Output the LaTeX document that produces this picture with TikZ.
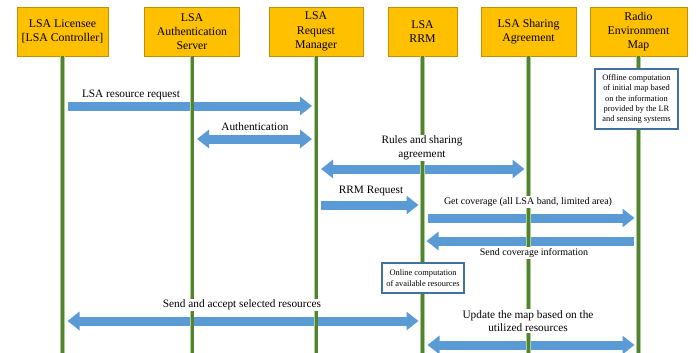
\documentclass[tikz,border=0pt]{standalone}
\usepackage{fontspec}
\setmainfont{Liberation Serif}
\usetikzlibrary{arrows.meta}
\definecolor{hdrfill}{HTML}{FFC000}
\definecolor{hdrline}{HTML}{BF9000}
\definecolor{lifegreen}{HTML}{548235}
\definecolor{lifelight}{HTML}{A9D18E}
\definecolor{msgblue}{HTML}{5B9BD5}
\definecolor{boxblue}{HTML}{41719C}

\begin{document}
\begin{tikzpicture}[x=1pt, y=-1pt,
  hdr/.style={draw=hdrline, fill=hdrfill, minimum height=49pt, align=center, inner sep=1pt, font=\fontsize{11.8}{14.3}\selectfont},
  life/.style={draw=lifegreen, line width=3pt, preaction={draw=lifelight, line width=4.6pt}},
  msg/.style={draw=msgblue, line width=9pt, -{Triangle[length=12pt,width=18pt]}, shorten <=5pt, shorten >=4pt},
  both/.style={msg, {Triangle[length=12pt,width=18pt]}-{Triangle[length=12pt,width=18pt]}},
  lbl/.style={fill=white, inner sep=1pt, align=center, font=\fontsize{11.3}{13.5}\selectfont},
  note/.style={draw=boxblue, line width=1.8pt, fill=white, align=center, inner sep=2pt, font=\fontsize{8.4}{10.3}\selectfont}]

\useasboundingbox (0,0) rectangle (696,353);

% headers
\node [hdr, minimum width=91pt] (lic) at (62.5,31.5) {LSA Licensee\\{[LSA Controller]}};
\node [hdr, minimum width=95pt] (auth) at (192,31.5) {LSA\\Authentication\\Server};
\node [hdr, minimum width=94pt] (req) at (316,31.5) {LSA\\Request\\Manager};
\node [hdr, minimum width=69pt] (rrm) at (422.5,31.5) {LSA\\RRM};
\node [hdr, minimum width=95pt] (agr) at (528.5,31.5) {LSA Sharing\\Agreement};
\node [hdr, minimum width=97pt] (rem) at (638.5,31.5) {Radio\\Environment\\Map};

% messages
\draw [msg] (lic |- 0,106) -- (req |- 0,106);
\draw [both] (auth |- 0,139) -- (req |- 0,139);
\draw [both] (req |- 0,169) -- (agr |- 0,169);
\draw [msg] (req |- 0,205) -- (rrm |- 0,205);
\draw [msg] (rrm |- 0,218) -- (rem |- 0,218);
\draw [msg] (rem |- 0,241) -- (rrm |- 0,241);
\draw [both] (lic |- 0,321) -- (rrm |- 0,321);
\draw [both] (rrm |- 0,345) -- (rem |- 0,345);

% lifelines
\draw [life] (lic) -- (lic |- 0,353);
\draw [life] (auth) -- (auth |- 0,353);
\draw [life] (req) -- (req |- 0,353);
\draw [life] (rrm) -- (rrm |- 0,353);
\draw [life] (agr) -- (agr |- 0,353);
\draw [life] (rem) -- (rem |- 0,353);

% labels
\node [lbl] (resreq) at (131,95) {LSA resource request};
\node [lbl] (authl) at (255,127) {Authentication};
\node [lbl] (rules) at (422,148) {Rules and sharing\\agreement};
\node [lbl] (rrmreq) at (371,191) {RRM Request};
\node [lbl, font=\fontsize{10}{12}\selectfont] (getcov) at (528,202) {Get coverage (all LSA band, limited area)};
\node [lbl, font=\fontsize{10}{12}\selectfont] (sendcov) at (534,253) {Send coverage information};
\node [lbl] (accept) at (242,305) {Send and accept selected resources};
\node [lbl] (update) at (528,321) {Update the map based on the\\utilized resources};

% computation boxes
\node [note, minimum width=83pt, minimum height=60pt] (offline) at (636.5,99) {Offline computation\\of initial map based\\on the information\\provided by the LR\\and sensing systems};
\node [note, minimum width=82pt, minimum height=30pt] (online) at (423,278) {Online computation\\of available resources};
\end{tikzpicture}
\end{document}
